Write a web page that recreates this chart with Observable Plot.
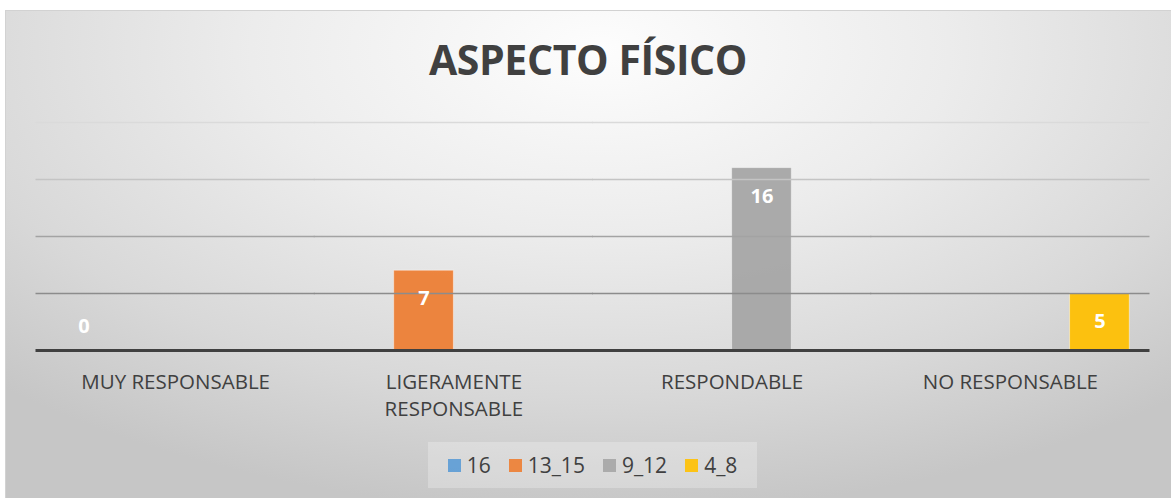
<!DOCTYPE html>
<html>
<head>
<meta charset="utf-8">
<script src="https://cdn.jsdelivr.net/npm/d3@7"></script>
<script src="https://cdn.jsdelivr.net/npm/@observablehq/plot@0.6"></script>
<style>
  html, body { margin: 0; padding: 0; background: #ffffff; width: 1171px; height: 498px; overflow: hidden; }
  #chart {
    position: absolute; left: 5px; top: 10px; width: 1166px; height: 488px;
    background: radial-gradient(ellipse 75% 95% at 51% 8%, #fdfdfd 0%, #ececec 40%, #d8d8d8 75%, #c6c6c6 100%);
    border-top: 1px solid #d2d2d2; border-left: 1px solid #d2d2d2;
    box-sizing: border-box;
  }
  #title {
    position: absolute; left: 0; width: 1176px; top: 31px; text-align: center;
    font-family: "Open Sans", sans-serif; font-weight: 700; font-size: 41px; color: #404040;
    letter-spacing: -0.4px;
  }
  #plot { position: absolute; left: 0; top: 100px; }
  #legend {
    position: absolute; left: 428px; top: 442px; width: 329px; height: 46px;
    background: rgba(255,255,255,0.25);
    display: flex; align-items: center; justify-content: center; gap: 18px;
    font-family: "Open Sans", sans-serif; font-size: 21px; color: #404040;
  }
  #legend .item { display: flex; align-items: center; gap: 6px; }
  #legend .sw { width: 13px; height: 13px; display: inline-block; }
</style>
</head>
<body>
<div id="chart"></div>
<div id="title">ASPECTO FÍSICO</div>
<div id="plot"></div>
<div id="legend"></div>
<script>
// ---- data ----
const categories = ["MUY RESPONSABLE", "LIGERAMENTE RESPONSABLE", "RESPONDABLE", "NO RESPONSABLE"];
const series = ["16", "13_15", "9_12", "4_8"];
const values16 = [0, null, null, null];
const values13_15 = [null, 7, null, null];
const values9_12 = [null, null, 16, null];
const values4_8 = [null, null, null, 5];
const gridTicks = [5, 10, 15, 20];

// ---- build table ----
const seriesValues = [values16, values13_15, values9_12, values4_8];
const colors = ["#5B9BD5", "#ED7D31", "#A5A5A5", "#FFC000"];
const table = [];
series.forEach((s, si) => {
  categories.forEach((c, ci) => {
    const v = seriesValues[si][ci];
    if (v !== null && v !== undefined) table.push({category: c, series: s, value: v});
  });
});

const labelFmt = c => c === "LIGERAMENTE RESPONSABLE" ? "LIGERAMENTE\nRESPONSABLE" : c;
const gridColor = v => ({5: "#8c8c8c", 10: "#a3a3a3", 15: "#c4c4c4", 20: "#dadada"})[v];

function build(superFacet) {
  const ruleOpts = superFacet ? {facet: "super"} : {insetLeft: -0.5, insetRight: -0.5};
  return Plot.plot({
    width: 1171,
    height: 340,
    marginLeft: 36,
    marginRight: 22,
    marginTop: 22,
    marginBottom: 90,
    style: {background: "transparent", fontFamily: "Open Sans, sans-serif"},
    fx: {domain: categories, padding: 0, round: false, label: null, tickFormat: labelFmt},
    x: {domain: series, paddingInner: 0, paddingOuter: 0.33, round: false, axis: null},
    y: {domain: [0, 20], axis: null},
    color: {domain: series, range: colors},
    marks: [
      Plot.axisFx({anchor: "bottom", tickSize: 0, tickPadding: 20, fontSize: 20.5, fill: "#404040", label: null, lineHeight: 1.3, tickFormat: labelFmt}),
      Plot.barY(table, {fx: "category", x: "series", y: "value", fill: "series", fillOpacity: 0.93, stroke: "#ffffff", strokeOpacity: 0.45, strokeWidth: 1}),
      Plot.ruleY(gridTicks, {y: d => d, stroke: d => gridColor(d), strokeWidth: 1.3, ...ruleOpts}),
      Plot.ruleY([0], {stroke: "#404040", strokeWidth: 3, ...ruleOpts}),
      Plot.text(table.filter(d => d.value > 0), {fx: "category", x: "series", y: "value", text: d => String(d.value), dy: 28, fill: "#ffffff", fontWeight: 700, fontSize: 20}),
      Plot.text(table.filter(d => d.value === 0), {fx: "category", x: "series", y: "value", text: d => String(d.value), dy: -24, dx: -2, fill: "#ffffff", fontWeight: 700, fontSize: 20})
    ]
  });
}
let chart;
try { chart = build(true); } catch (e) { chart = build(false); }
document.getElementById("plot").appendChild(chart);

// ---- legend ----
const legend = document.getElementById("legend");
series.forEach((s, i) => {
  const item = document.createElement("span");
  item.className = "item";
  const sw = document.createElement("span");
  sw.className = "sw";
  sw.style.background = colors[i];
  sw.style.opacity = 0.9;
  const t = document.createElement("span");
  t.textContent = s;
  item.appendChild(sw); item.appendChild(t);
  legend.appendChild(item);
});
</script>
</body>
</html>
